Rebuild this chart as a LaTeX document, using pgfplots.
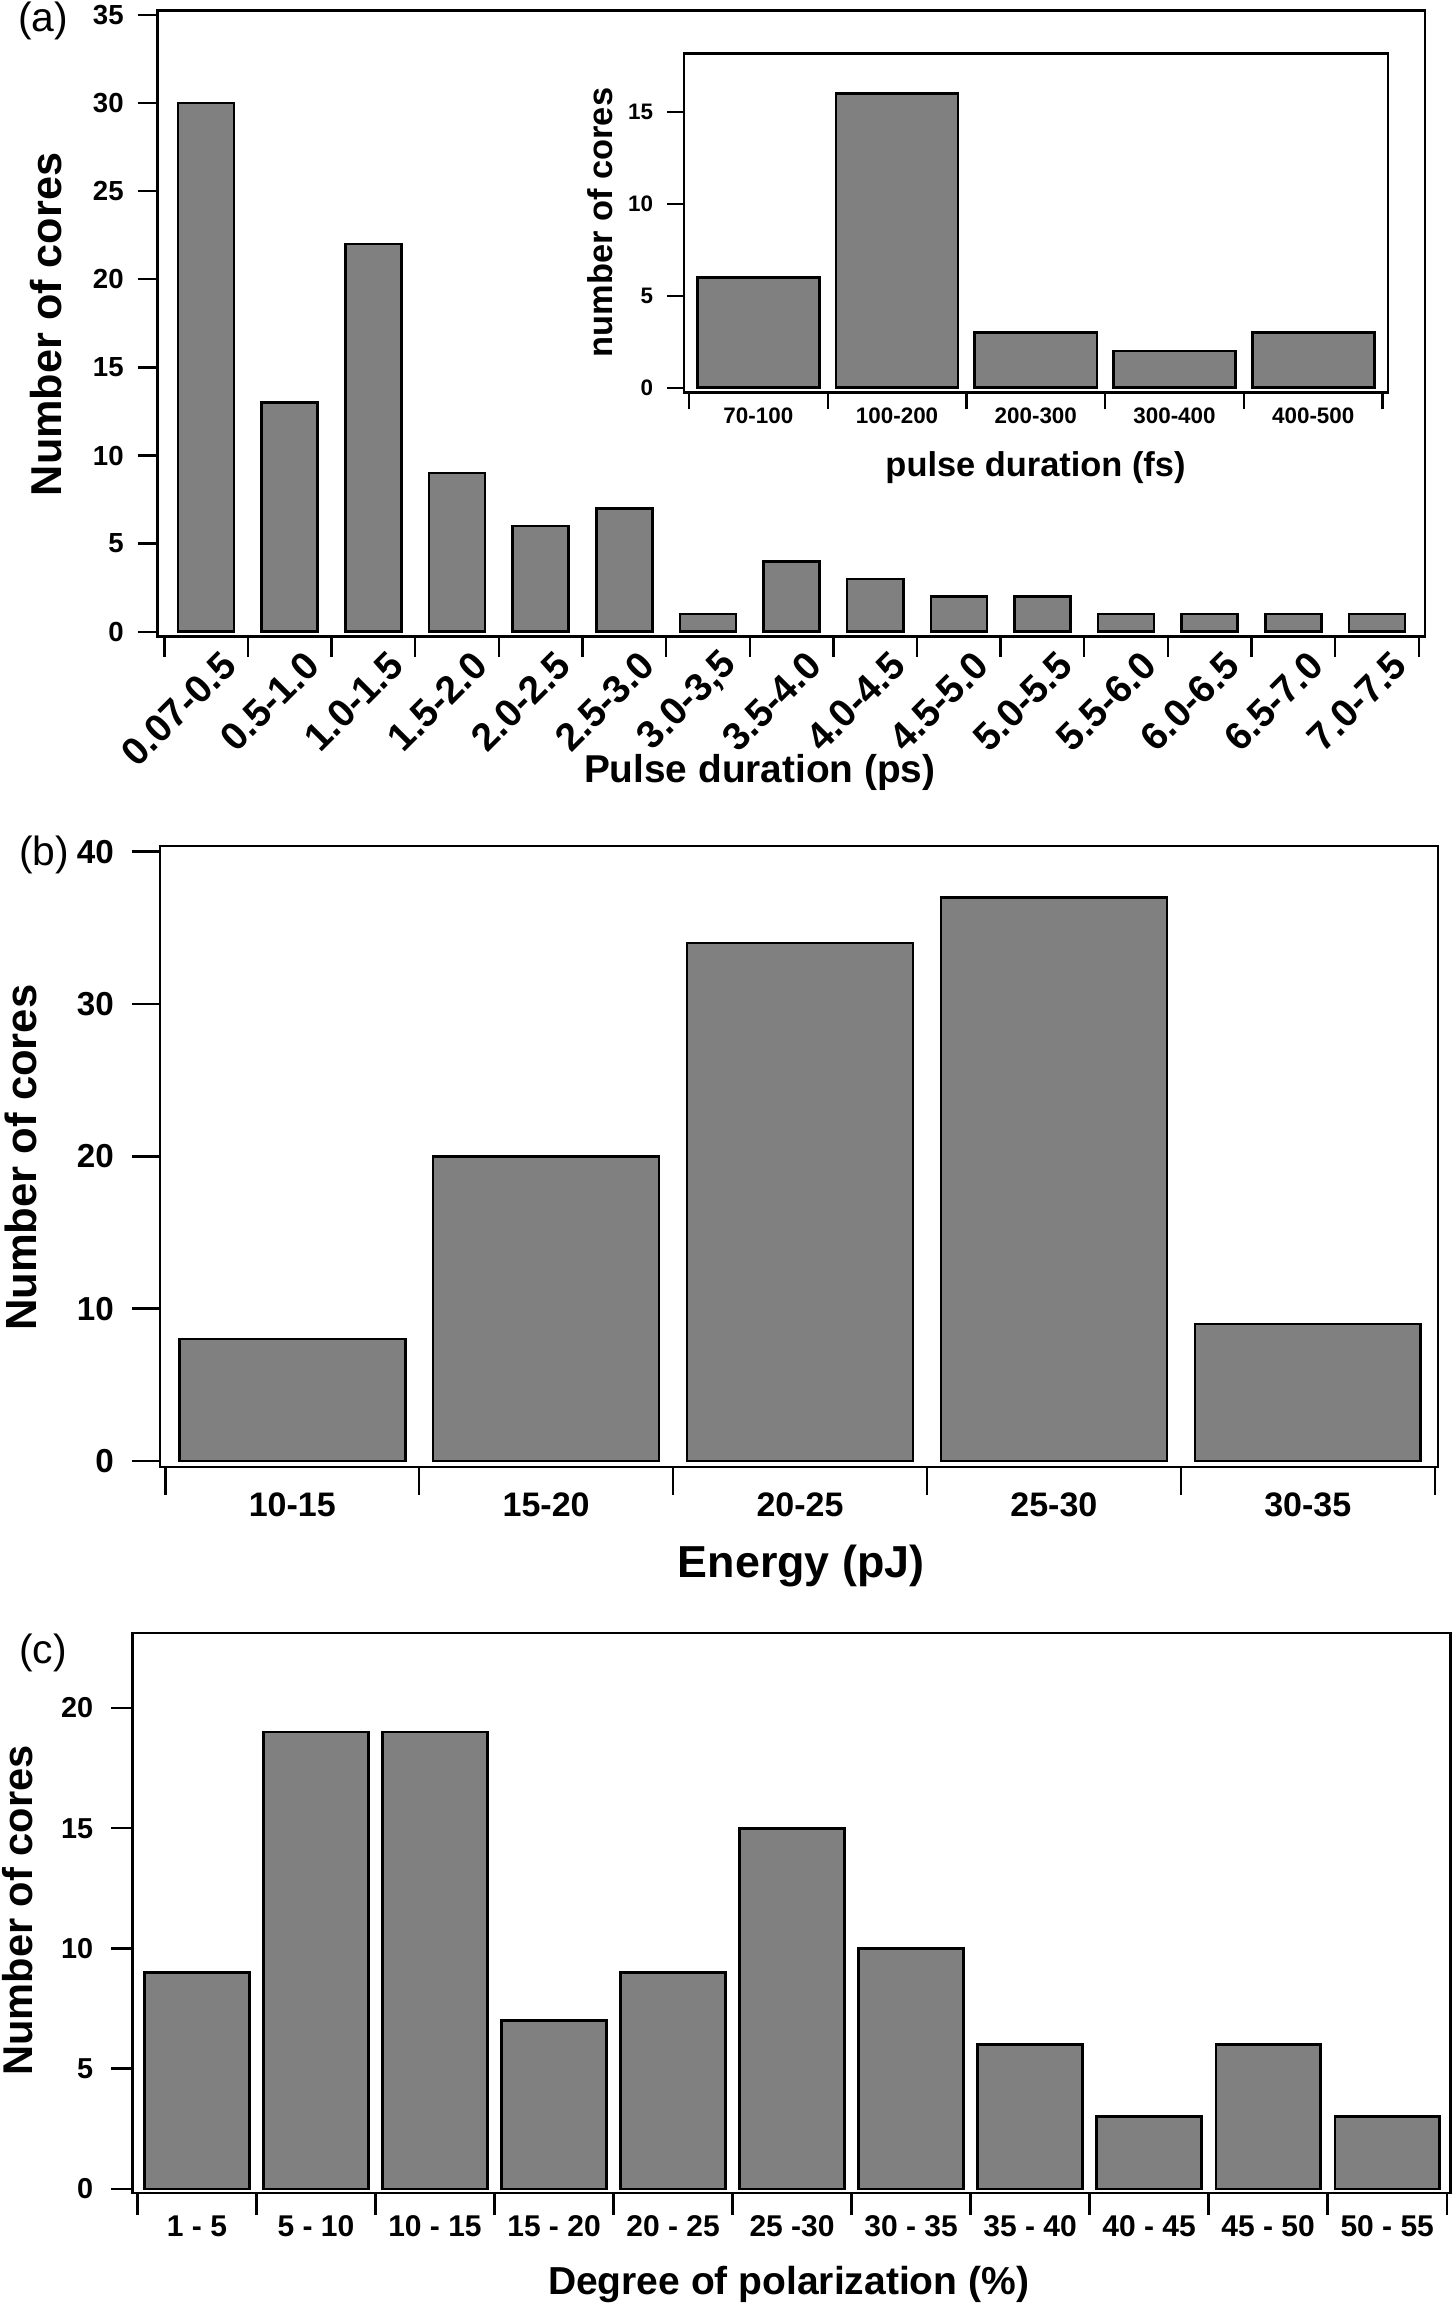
\documentclass[border=0pt]{standalone}
\usepackage{pgfplots}
\pgfplotsset{compat=1.18}
\usepackage{fontspec}
\setmainfont{Liberation Sans}

\definecolor{barfill}{HTML}{808080}

\pgfplotsset{
  histo/.style={
    scale only axis,
    ybar,
    tick align=outside,
    tick pos=left,
    axis line style={line width=0.7pt},
    tick style={black, line width=0.6pt},
    x tick label as interval,
    /pgf/number format/assume math mode=true,
    ylabel style={anchor=base},
    xlabel style={anchor=base},
  },
  histbar/.style={fill=barfill, draw=black, line width=0.65pt},
}

\begin{document}
\begin{tikzpicture}
\path[use as bounding box] (0,0) rectangle (364pt,576pt);

% (a) pulse duration, ps
\begin{axis}[histo,
  at={(39.45pt,416.825pt)}, anchor=south west,
  width=316.8pt, height=156.5pt,
  xmin=-0.578, xmax=14.574, ymin=-0.28, ymax=35.24,
  bar width=0.67,
  major tick length=5pt,
  xtick={-0.5,0.5,...,14.5},
  xticklabels={0.07-0.5,0.5-1.0,1.0-1.5,1.5-2.0,2.0-2.5,2.5-3.0,{3.0-3,5},3.5-4.0,4.0-4.5,4.5-5.0,5.0-5.5,5.5-6.0,6.0-6.5,6.5-7.0,7.0-7.5},
  ytick={0,5,...,35},
  xticklabel style={xshift=8.2pt, yshift=2pt, rotate=45, anchor=east, font=\fontsize{9.7}{10}\selectfont\bfseries},
  yticklabel style={font=\fontsize{6.9}{7}\selectfont\bfseries},
  xlabel={Pulse duration (ps)},
  ylabel={Number of cores},
  xlabel style={at={(axis description cs:0.475,-0.2337)}, font=\fontsize{9.7}{10}\selectfont\bfseries},
  ylabel style={at={(axis description cs:-0.0756,0.4987)}, font=\fontsize{10.8}{11}\selectfont\bfseries},
]
\addplot[histbar] coordinates {
  (0,30) (1,13) (2,22) (3,9) (4,6) (5,7) (6,1) (7,4)
  (8,3) (9,2) (10,2) (11,1) (12,1) (13,1) (14,1)
};
\end{axis}

% inset, fs
\begin{axis}[histo,
  at={(171pt,477.825pt)}, anchor=south west,
  width=176pt, height=84.85pt,
  xmin=-0.536, xmax=4.539, ymin=-0.27, ymax=18.2,
  bar width=0.88,
  major tick length=4.2pt,
  xtick={-0.5,0.5,...,4.5},
  xticklabels={70-100,100-200,200-300,300-400,400-500},
  ytick={0,5,10,15},
  xticklabel style={anchor=base, yshift=-3.6pt, font=\fontsize{5.6}{6}\selectfont\bfseries},
  yticklabel style={font=\fontsize{5.6}{6}\selectfont\bfseries},
  xlabel={pulse duration (fs)},
  ylabel={number of cores},
  xlabel style={at={(axis description cs:0.4993,-0.2475)}, font=\fontsize{8.6}{9}\selectfont\bfseries},
  ylabel style={at={(axis description cs:-0.1009,0.5015)}, font=\fontsize{8.6}{9}\selectfont\bfseries},
]
\addplot[histbar] coordinates {(0,6) (1,16) (2,3) (3,2) (4,3)};
\end{axis}

% (b) energy
\begin{axis}[histo,
  at={(40pt,209.25pt)}, anchor=south west,
  width=319.5pt, height=155.25pt,
  xmin=-0.521, xmax=4.513, ymin=-0.39, ymax=40.37,
  bar width=0.89,
  major tick length=7pt,
  xtick={-0.5,0.5,...,4.5},
  xticklabels={10-15,15-20,20-25,25-30,30-35},
  ytick={0,10,...,40},
  xticklabel style={anchor=base, yshift=-5.4pt, font=\fontsize{8.5}{9}\selectfont\bfseries},
  yticklabel style={xshift=-1pt, font=\fontsize{8.3}{9}\selectfont\bfseries},
  xlabel={Energy (pJ)},
  ylabel={Number of cores},
  xlabel style={at={(axis description cs:0.5016,-0.1787)}, font=\fontsize{11.2}{12}\selectfont\bfseries},
  ylabel style={at={(axis description cs:-0.0965,0.498)}, font=\fontsize{10.9}{11}\selectfont\bfseries},
]
\addplot[histbar] coordinates {(0,8) (1,20) (2,34) (3,37) (4,9)};
\end{axis}

% (c) degree of polarization
\begin{axis}[histo,
  at={(33.2pt,27.75pt)}, anchor=south west,
  width=329.4pt, height=140pt,
  xmin=-0.539, xmax=10.531, ymin=-0.17, ymax=23.12,
  bar width=0.88,
  major tick length=5.5pt,
  xtick={-0.5,0.5,...,10.5},
  xticklabels={1 - 5,5 - 10,10 - 15,15 - 20,20 - 25,25 -30,30 - 35,35 - 40,40 - 45,45 - 50,50 - 55},
  ytick={0,5,...,20},
  xticklabel style={anchor=base, yshift=-5.4pt, font=\fontsize{7.5}{8}\selectfont\bfseries},
  yticklabel style={xshift=-0.85pt, font=\fontsize{7.2}{8}\selectfont\bfseries},
  xlabel={Degree of polarization (\%)},
  ylabel={Number of cores},
  xlabel style={at={(axis description cs:0.4977,-0.182)}, font=\fontsize{9.75}{10}\selectfont\bfseries},
  ylabel style={at={(axis description cs:-0.0759,0.5045)}, font=\fontsize{10.4}{11}\selectfont\bfseries},
]
\addplot[histbar] coordinates {
  (0,9) (1,19) (2,19) (3,7) (4,9) (5,15) (6,10) (7,6) (8,3) (9,6) (10,3)
};
\end{axis}

\node[anchor=base west, font=\fontsize{10.2}{11}\selectfont] at (1pt,568.1pt) {(a)};
\node[anchor=base west, font=\fontsize{10.2}{11}\selectfont] at (1.25pt,359.5pt) {(b)};
\node[anchor=base west, font=\fontsize{10.2}{11}\selectfont] at (1.25pt,160pt) {(c)};
\end{tikzpicture}
\end{document}
